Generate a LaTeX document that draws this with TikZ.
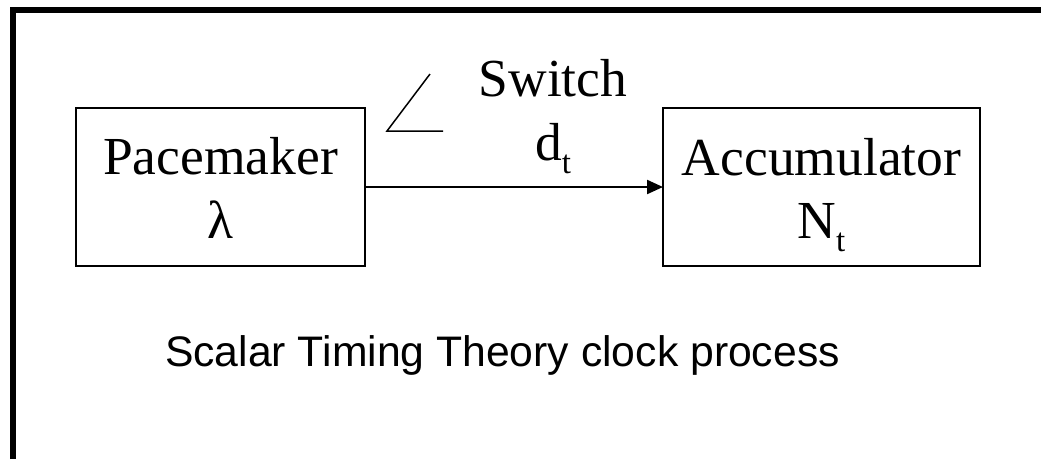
\documentclass[tikz,border=0pt]{standalone}
\usepackage{fontspec}
\setmainfont{Liberation Serif}
\newfontfamily\labelsans{Liberation Sans}
\usetikzlibrary{arrows.meta}

\newcommand{\subt}{\raisebox{-13pt}{\fontsize{33}{33}\selectfont t}}

\tikzset{
  frameline/.style={line width=6pt, line cap=butt},
  blockbox/.style={draw, line width=2.2pt, line join=miter},
  blocktext/.style={anchor=base, inner sep=0pt, font=\fontsize{53.5}{60}\selectfont},
  caption/.style={anchor=base, inner sep=0pt, font=\labelsans\fontsize{42.7}{50}\selectfont},
  signal/.style={line width=2.2pt, -{Triangle[length=16pt, width=14pt]}},
  switchmark/.style={line width=1.5pt, line join=miter},
}

\begin{document}
\begin{tikzpicture}[x=1pt, y=-1pt]
  \useasboundingbox (0,0) rectangle (1041,459);

  % outer frame (left and top edges)
  \draw[frameline] (12.5,459) -- (12.5,10) -- (1041,10);

  % blocks
  \draw[blockbox] (76,108) rectangle (365,266);
  \draw[blockbox] (663,108) rectangle (980,266);
  \coordinate (pmE) at (365,187);
  \coordinate (acW) at (663,187);

  \node[blocktext] (pm) at (220.5,174) {Pacemaker};
  \node[blocktext] (lam) at (220.5,238) {λ};
  \node[blocktext] (ac) at (821.5,175) {Accumulator};
  \node[blocktext] (nt) at (821.5,238) {N\subt};

  % signal from pacemaker to accumulator
  \draw[signal] (pmE) -- (acW);

  % switch symbol and labels
  \coordinate (swA) at (430,74);
  \coordinate (swB) at (387,131);
  \coordinate (swC) at (443,131);
  \draw[switchmark] (swA) -- (swB) -- (swC);
  \node[blocktext] (sw) at (553,96) {Switch};
  \node[blocktext] (dt) at (553,160) {d\subt};

  % caption
  \node[caption] (cap) at (502.5,366) {Scalar Timing Theory clock process};
\end{tikzpicture}
\end{document}
